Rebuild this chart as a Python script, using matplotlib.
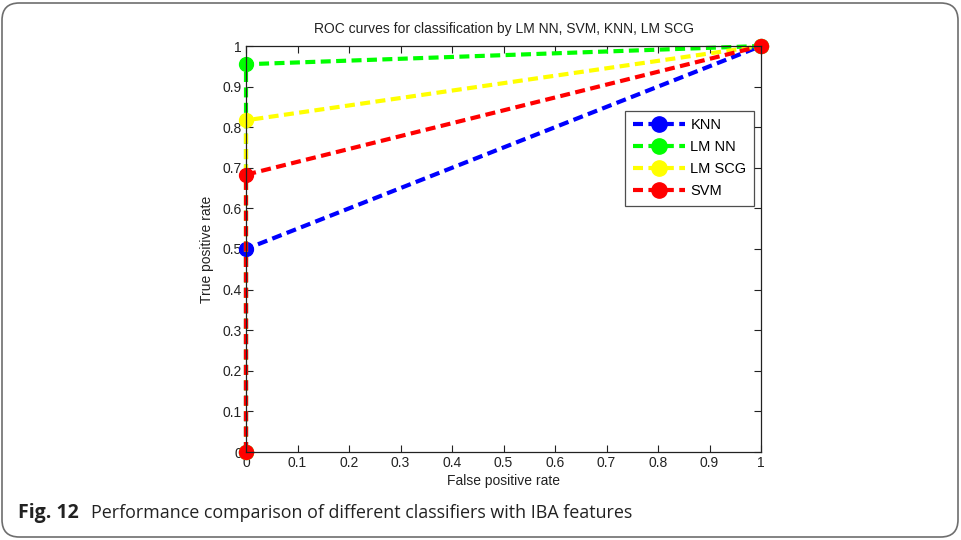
import matplotlib
matplotlib.use("Agg")
import matplotlib.pyplot as plt
from matplotlib.patches import FancyBboxPatch

# ROC points: (0,0) -> (0,tpr) -> (1,1)
classifiers = ["KNN", "LM NN", "LM SCG", "SVM"]
fpr = [0, 0, 1]
tpr = {
    "KNN": [0, 0.50, 1],
    "LM NN": [0, 0.955, 1],
    "LM SCG": [0, 0.817, 1],
    "SVM": [0, 0.683, 1],
}
colors = {"KNN": "#0000ff", "LM NN": "#00ff00", "LM SCG": "#ffff00", "SVM": "#ff0000"}
ticks = [0, 0.1, 0.2, 0.3, 0.4, 0.5, 0.6, 0.7, 0.8, 0.9, 1]
tick_labels = ["0", "0.1", "0.2", "0.3", "0.4", "0.5", "0.6", "0.7", "0.8", "0.9", "1"]

plt.rcParams["font.family"] = ["Liberation Sans", "DejaVu Sans"]

fig = plt.figure(figsize=(9.61, 5.40), dpi=100)
fig.patch.set_facecolor("white")

# rounded frame around the figure + caption
frame = FancyBboxPatch((2 / 961, 3 / 540), 956 / 961, 534 / 540,
                       boxstyle="round,pad=0,rounding_size=0.018",
                       transform=fig.transFigure, facecolor="none",
                       edgecolor="#6e6e6e", linewidth=1.2, mutation_aspect=961 / 540)
fig.patches.append(frame)

ax = fig.add_axes([246 / 961, 1 - 452 / 540, 515 / 961, 406 / 540])

for name in classifiers:
    ax.plot(fpr, tpr[name], color=colors[name], linestyle="--", dashes=(2.4, 1.3),
            linewidth=3, marker="o", markersize=10, markeredgecolor=colors[name],
            label=name, clip_on=False)

ax.set_xlim(0, 1)
ax.set_ylim(0, 1)
ax.set_xticks(ticks)
ax.set_xticklabels(tick_labels)
ax.set_yticks(ticks)
ax.set_yticklabels(tick_labels)
ax.tick_params(direction="in", length=5, width=0.8, top=True, right=True,
               labelsize=10, colors="#222222", pad=3)
for s in ax.spines.values():
    s.set_linewidth(0.9)
    s.set_color("#222222")

ax.set_title("ROC curves for classification by LM NN, SVM, KNN, LM SCG",
             fontsize=10, color="#222222", pad=9)
ax.set_xlabel("False positive rate", fontsize=10, color="#222222", labelpad=3)
ax.set_ylabel("True positive rate", fontsize=10, color="#222222", labelpad=6)

leg = ax.legend(loc="upper right", bbox_to_anchor=(0.986, 0.840), numpoints=1,
                fontsize=10.5, frameon=True, fancybox=False, edgecolor="#222222",
                borderpad=0.5, labelspacing=0.55, handlelength=3.6,
                handletextpad=0.35, borderaxespad=0, markerscale=1.1)
leg.get_frame().set_linewidth(0.9)

fig.text(18 / 961, 1 - 513 / 540, "Fig. 12", fontsize=14, fontweight="bold",
         family=["Open Sans", "DejaVu Sans"], va="center", ha="left", color="#222222")
fig.text(91 / 961, 1 - 513 / 540, "Performance comparison of different classifiers with IBA features",
         fontsize=12.9, family=["Open Sans", "DejaVu Sans"], va="center", ha="left",
         color="#222222")

fig.savefig("out.png", dpi=100)
